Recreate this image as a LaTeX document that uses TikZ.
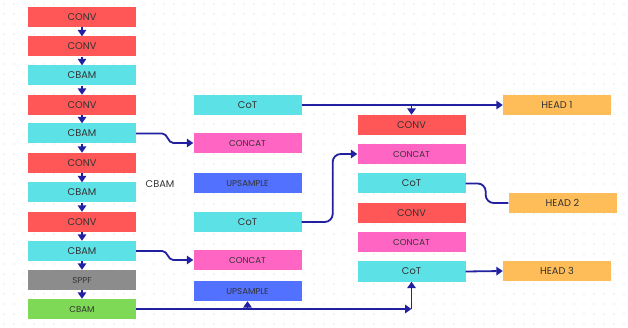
\documentclass[tikz,border=0pt]{standalone}
\usepackage{fontspec}
\setmainfont{Poppins}
\usetikzlibrary{arrows.meta,calc}
\definecolor{cred}{HTML}{FF5757}
\definecolor{ccyan}{HTML}{5CE1E6}
\definecolor{cpink}{HTML}{FF66C4}
\definecolor{cblue}{HTML}{5271FF}
\definecolor{cgray}{HTML}{8C8C8C}
\definecolor{cgreen}{HTML}{7ED957}
\definecolor{corange}{HTML}{FFBD59}
\definecolor{cline}{HTML}{2020A0}
\definecolor{ctext}{HTML}{333333}
\definecolor{cdot}{HTML}{D0D0D0}
\tikzset{
  box/.style={minimum width=108pt, minimum height=20pt, inner sep=0pt, text=ctext, font=\fontsize{9.8}{10}\selectfont},
  small/.style={font=\fontsize{8.6}{9}\selectfont},
  arr/.style={draw=cline, line width=1.8pt, -{Triangle[length=6.5pt,width=8.5pt]}},
  lin/.style={draw=cline, line width=1.8pt},
}
\begin{document}
\begin{tikzpicture}[x=1pt,y=-1pt]
\useasboundingbox (0,0) rectangle (628,328);
\foreach \i in {0,...,62} {\foreach \j in {0,...,32} {\fill[cdot] (\i*10+4,\j*10+4) circle (0.7pt);}}
% left column
\node[box, fill=cred] (l1) at (82,17) {CONV};
\node[box, fill=cred] (l2) at (82,46.5) {CONV};
\node[box, fill=ccyan] (l3) at (82,75.5) {CBAM};
\node[box, fill=cred] (l4) at (82,105) {CONV};
\node[box, fill=ccyan] (l5) at (82,133.5) {CBAM};
\node[box, fill=cred] (l6) at (82,163) {CONV};
\node[box, fill=ccyan] (l7) at (82,192.5) {CBAM};
\node[box, fill=cred] (l8) at (82,222) {CONV};
\node[box, fill=ccyan] (l9) at (82,251) {CBAM};
\node[box, fill=cgray, small] (l10) at (82,280) {SPPF};
\node[box, fill=cgreen, small] (l11) at (82,309) {CBAM};
\foreach \a/\b in {l1/l2,l2/l3,l3/l4,l4/l5,l5/l6,l6/l7,l7/l8,l8/l9,l9/l10,l10/l11}
  \draw[arr] (\a) -- (\b);
\node[text=ctext, font=\fontsize{9.8}{10}\selectfont] (lbl) at (160,184) {CBAM};
% middle column
\node[box, fill=ccyan] (m1) at (247.5,105) {CoT};
\node[box, fill=cpink, small] (m2) at (247.5,143) {CONCAT};
\node[box, fill=cblue, small] (m3) at (247.5,183) {UPSAMPLE};
\node[box, fill=ccyan] (m4) at (247.5,222) {CoT};
\node[box, fill=cpink, small] (m5) at (247.5,260) {CONCAT};
\node[box, fill=cblue, small] (m6) at (247.5,291) {UPSAMPLE};
% right column
\node[box, fill=cred] (r1) at (411.5,125) {CONV};
\node[box, fill=cpink, small] (r2) at (411.5,154) {CONCAT};
\node[box, fill=ccyan] (r3) at (411.5,183.5) {CoT};
\node[box, fill=cred] (r4) at (411.5,213) {CONV};
\node[box, fill=cpink, small] (r5) at (411.5,242) {CONCAT};
\node[box, fill=ccyan] (r6) at (411.5,271.5) {CoT};
% heads
\node[box, fill=corange] (h1) at (557,105) {HEAD 1};
\node[box, fill=corange] (h2) at (562.5,203) {HEAD 2};
\node[box, fill=corange] (h3) at (557,271) {HEAD 3};
% connectors
\draw[arr] (m1.east) -- (h1.west);
\draw[arr] (r1.north |- m1.east) -- (r1.north);
\draw[arr] (l5.east) -- ++(26,0) to[out=0,in=180] ($(m2.west)+(-20,0)$) -- (m2.west);
\draw[arr] (l9.east) -- ++(26,0) to[out=0,in=180] ($(m5.west)+(-20,0)$) -- (m5.west);
\draw[arr, rounded corners=8pt] (m4.east) -- ++(31,0) |- (r2.west);
\draw[lin, rounded corners=8pt] (r3.east) -- ++(20,0) |- (h2.west);
\draw[arr] (r6.east) -- (h3.west);
\coordinate (g) at (r6.south |- l11.east);
\draw[arr] (l11.east) -- (g);
\draw[arr] (g) -- (r6.south);
\draw[arr] (m6.south |- l11.east) -- (m6.south);
\end{tikzpicture}
\end{document}
